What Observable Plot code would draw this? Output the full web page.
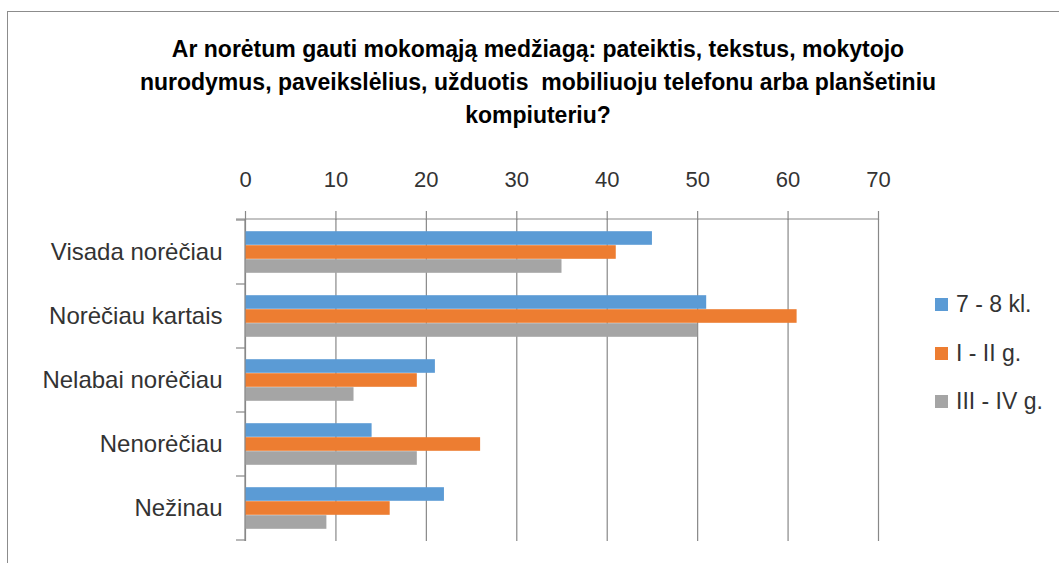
<!DOCTYPE html>
<html>
<head>
<meta charset="utf-8">
<script src="https://cdn.jsdelivr.net/npm/d3@7"></script>
<script src="https://cdn.jsdelivr.net/npm/@observablehq/plot@0.6"></script>
<style>
  html, body { margin: 0; padding: 0; background: #fff; }
  #wrap { position: relative; width: 1059px; height: 563px; overflow: hidden; font-family: "Liberation Sans", Arial, sans-serif; }
  #border { position: absolute; left: 7px; top: 11px; width: 1200px; height: 700px; border-left: 1px solid #8c8c8c; border-top: 1px solid #8c8c8c; box-sizing: border-box; }
  #title { position: absolute; left: 0; top: 33px; width: 1076px; text-align: center; font-weight: bold; font-size: 23px; line-height: 33px; color: #000; }
  #chart { position: absolute; left: 0; top: 0; }
  #legend { position: absolute; left: 935px; top: 0; }
  .item { position: absolute; left: 0; display: flex; align-items: center; white-space: nowrap; font-size: 23px; color: #333; height: 30px; }
  .sw { width: 13px; height: 13px; margin-right: 8px; flex: none; }
</style>
</head>
<body>
<div id="wrap">
  <div id="border"></div>
  <div id="chart"></div>
  <div id="title"></div>
  <div id="legend"></div>
</div>
<script>
const titleLines = [
  "Ar norėtum gauti mokomąją medžiagą: pateiktis, tekstus, mokytojo",
  "nurodymus, paveikslėlius, užduotis  mobiliuoju telefonu arba planšetiniu",
  "kompiuteriu?"
];
const categories = ["Visada norėčiau", "Norėčiau kartais", "Nelabai norėčiau", "Nenorėčiau", "Nežinau"];
const seriesNames = ["7 - 8 kl.", "I - II g.", "III - IV g."];
const values78 = [45, 51, 21, 14, 22];
const valuesI_II = [41, 61, 19, 26, 16];
const valuesIII_IV = [35, 50, 12, 19, 9];
const xTicks = [0, 10, 20, 30, 40, 50, 60, 70];
const colors = ["#5B9BD5", "#ED7D31", "#A5A5A5"];

const seriesValues = [values78, valuesI_II, valuesIII_IV];
const rows = [];
seriesNames.forEach((s, si) => categories.forEach((c, ci) => rows.push({category: c, series: s, value: seriesValues[si][ci]})));

// layout
const W = 1059, H = 563, mT = 219, mB = 22, mL = 245, mR = 181;
const band = (H - mT - mB) / categories.length;
const barFrac = 0.2174; // bar thickness as a fraction of the category band
const barH = band * barFrac;
const groupOffset = (band - barH * seriesNames.length) / 2;
const gridColor = "#888888";

function axesMark(index, scales, values, dims) {
  const {marginTop: t, marginLeft: l, marginBottom: b, marginRight: r, width: w, height: h} = dims;
  const g = d3.create("svg:g").attr("stroke", gridColor).attr("stroke-width", 1.2).attr("fill", "none");
  g.append("line").attr("x1", l - 9).attr("x2", w - r).attr("y1", t).attr("y2", t);
  g.append("line").attr("x1", l).attr("x2", l).attr("y1", t).attr("y2", h - b);
  const y = scales.y;
  const bw = y.bandwidth ? y.bandwidth() : (h - t - b) / categories.length;
  const edges = categories.map(c => y(c)).concat([y(categories[categories.length - 1]) + bw]);
  for (const e of edges) g.append("line").attr("x1", l - 9).attr("x2", l).attr("y1", e).attr("y2", e);
  return g.node();
}

const plot = Plot.plot({
  width: W, height: H,
  marginTop: mT, marginBottom: mB, marginLeft: mL, marginRight: mR,
  style: {fontFamily: "'Liberation Sans', Arial, sans-serif", background: "transparent", color: "#333"},
  x: {domain: [0, 70]},
  y: {domain: categories, paddingInner: 0, paddingOuter: 0},
  color: {domain: seriesNames, range: colors},
  marks: [
    Plot.gridX(xTicks, {stroke: gridColor, strokeOpacity: 1, strokeWidth: 1.2}),
    ...seriesNames.map((s, si) => Plot.barX(rows.filter(d => d.series === s), {
      y: "category", x: "value", fill: "series",
      insetTop: groupOffset + si * barH,
      insetBottom: band - groupOffset - (si + 1) * barH
    })),
    axesMark,
    Plot.axisX(xTicks, {anchor: "top", tickSize: 9, tickPadding: 24, fontSize: 22, stroke: gridColor, strokeWidth: 1.2, fill: "#333", label: null}),
    Plot.axisY(categories, {anchor: "left", tickSize: 0, tickPadding: 23, fontSize: 24, fill: "#333", label: null})
  ]
});
document.getElementById("chart").appendChild(plot);

const title = document.getElementById("title");
titleLines.forEach(line => { const d = document.createElement("div"); d.textContent = line; d.style.whiteSpace = "pre"; title.appendChild(d); });

const legend = document.getElementById("legend");
const legendCenters = [304, 353, 401];
seriesNames.forEach((s, i) => {
  const it = document.createElement("div");
  it.className = "item";
  it.style.top = (legendCenters[i] - 15) + "px";
  const sw = document.createElement("span"); sw.className = "sw"; sw.style.background = colors[i];
  const tx = document.createElement("span"); tx.textContent = s;
  it.appendChild(sw); it.appendChild(tx);
  legend.appendChild(it);
});
</script>
</body>
</html>
